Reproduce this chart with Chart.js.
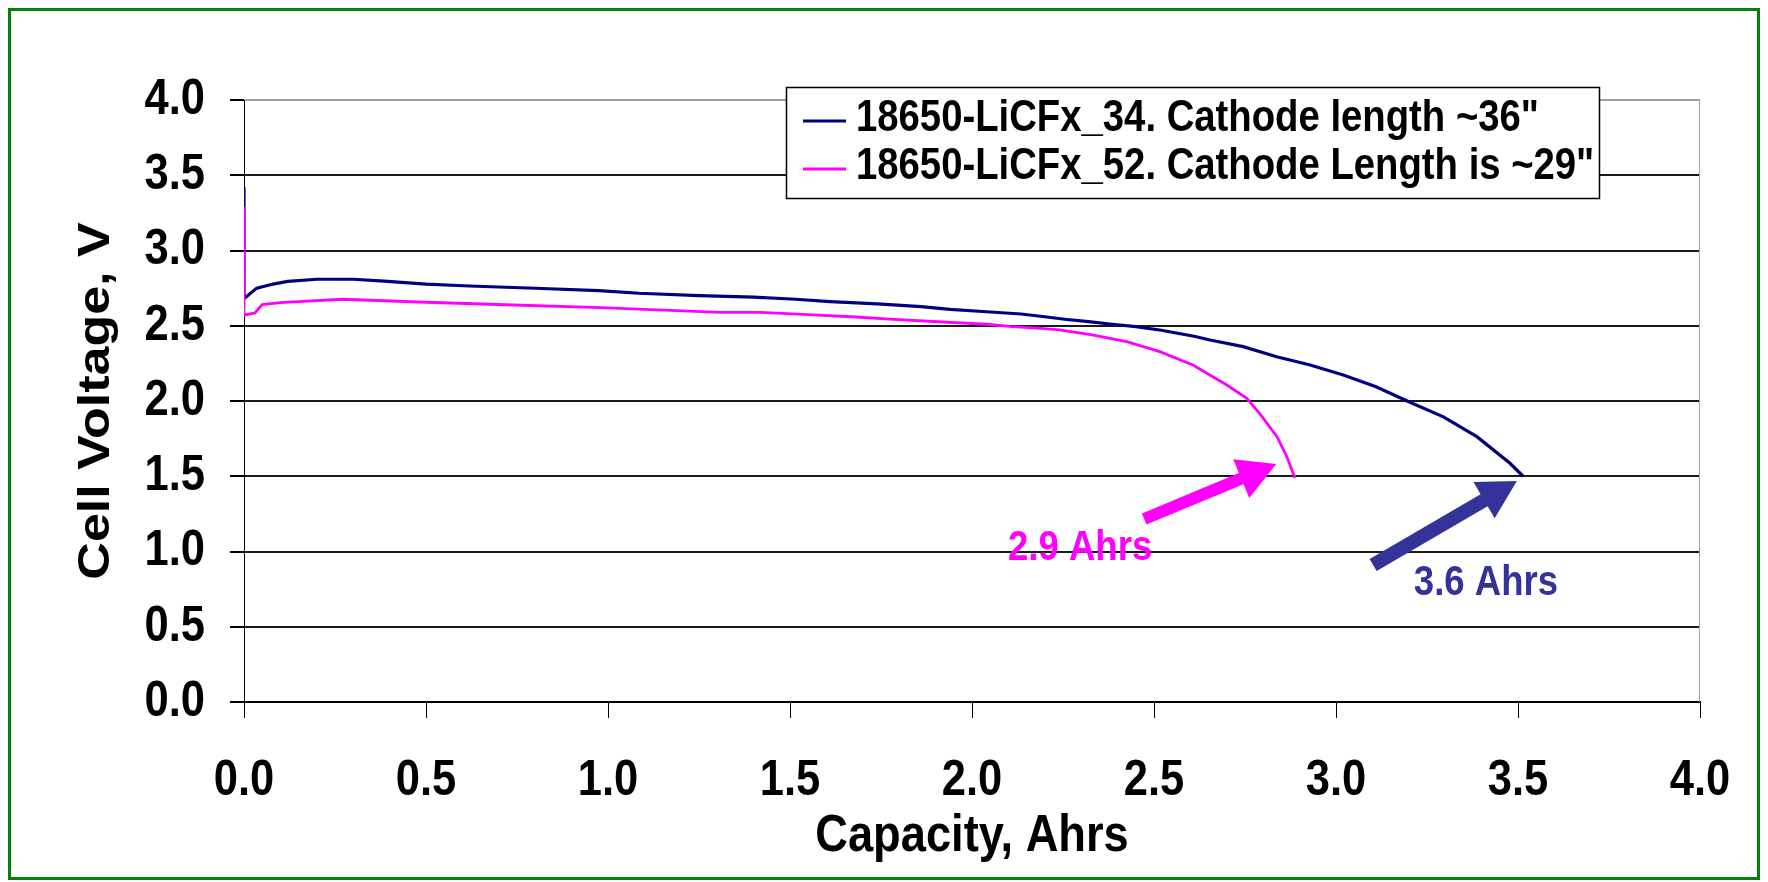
<!DOCTYPE html>
<html>
<head>
<meta charset="utf-8">
<script src="https://cdn.jsdelivr.net/npm/chart.js@4.4.1/dist/chart.umd.min.js"></script>
<style>
  html, body { margin: 0; padding: 0; background: #ffffff; }
  canvas { display: block; }
</style>
</head>
<body>
<canvas id="c" width="1768" height="882"></canvas>
<script>
// ---------------- data ----------------
const seriesLabels = [
  '18650-LiCFx_34. Cathode length ~36"',
  '18650-LiCFx_52. Cathode Length is ~29"'
];
const capacity34 = [0, 0, 0.035, 0.08, 0.12, 0.20, 0.30, 0.385, 0.50, 0.62, 0.80, 0.975, 1.085, 1.25, 1.40, 1.515, 1.61, 1.74, 1.86, 1.94, 2.04, 2.135, 2.20, 2.255, 2.32, 2.385, 2.45, 2.52, 2.61, 2.654, 2.745, 2.837, 2.929, 3.02, 3.11, 3.20, 3.295, 3.387, 3.478, 3.514];
const voltage34  = [3.42, 2.68, 2.75, 2.777, 2.795, 2.809, 2.809, 2.797, 2.777, 2.764, 2.749, 2.733, 2.716, 2.70, 2.69, 2.676, 2.66, 2.645, 2.627, 2.609, 2.593, 2.578, 2.56, 2.543, 2.527, 2.51, 2.494, 2.47, 2.43, 2.405, 2.361, 2.294, 2.239, 2.173, 2.095, 1.995, 1.895, 1.763, 1.586, 1.50];
const capacity52 = [0, 0, 0.03, 0.05, 0.10, 0.27, 0.50, 0.74, 0.98, 1.135, 1.31, 1.42, 1.55, 1.68, 1.785, 1.92, 2.04, 2.11, 2.19, 2.24, 2.33, 2.425, 2.516, 2.607, 2.70, 2.755, 2.79, 2.838, 2.865, 2.887];
const voltage52  = [3.29, 2.57, 2.585, 2.64, 2.654, 2.676, 2.656, 2.638, 2.62, 2.605, 2.589, 2.589, 2.574, 2.558, 2.543, 2.525, 2.51, 2.494, 2.483, 2.472, 2.439, 2.394, 2.328, 2.239, 2.106, 2.018, 1.918, 1.763, 1.63, 1.49];
const xTickLabels = ['0.0', '0.5', '1.0', '1.5', '2.0', '2.5', '3.0', '3.5', '4.0'];
const yTickLabels = ['0.0', '0.5', '1.0', '1.5', '2.0', '2.5', '3.0', '3.5', '4.0'];
const calloutText   = ['2.9 Ahrs', '3.6 Ahrs'];
const calloutTailX  = [2.473, 3.102];
const calloutTailY  = [1.216, 0.910];
const calloutTipX   = [2.836, 3.497];
const calloutTipY   = [1.581, 1.468];
const calloutLabelX = [2.297, 3.412];
const calloutLabelY = [1.023, 0.791];

// ---------------- styles ----------------
const FONT = '"Liberation Sans", Arial, Helvetica, sans-serif';
const TEXT_SQUEEZE = 0.87;   // the reference's lettering is horizontally condensed
const colors = ['#000080', '#ff00ff'];
const calloutColors = ['#ff00ff', '#333399'];

function pts(xs, ys) { return xs.map((x, i) => ({ x: x, y: ys[i] })); }

// draw all canvas text horizontally condensed about its anchor point
function condenseText(ctx) {
  if (ctx.__condensed) return;
  ctx.__condensed = true;
  const orig = ctx.fillText;
  ctx.fillText = function (text, x, y, maxWidth) {
    const m = this.getTransform();
    const px = m.a * x + m.c * y + m.e, py = m.b * x + m.d * y + m.f;
    this.save();
    this.setTransform(1, 0, 0, 1, 0, 0);
    this.translate(px, py);
    this.scale(TEXT_SQUEEZE, 1);
    this.translate(-px, -py);
    this.transform(m.a, m.b, m.c, m.d, m.e, m.f);
    if (maxWidth === undefined) orig.call(this, text, x, y);
    else orig.call(this, text, x, y, maxWidth);
    this.restore();
  };
}

const framePlugin = {
  id: 'frame',
  beforeInit(chart) { condenseText(chart.ctx); },
  beforeDraw(chart) {
    const ctx = chart.ctx;
    ctx.save();
    ctx.fillStyle = '#ffffff';
    ctx.fillRect(0, 0, chart.width, chart.height);
    ctx.restore();
  },
  afterDraw(chart) {
    const ctx = chart.ctx;
    ctx.save();
    ctx.strokeStyle = '#0b7d0b';
    ctx.lineWidth = 3;
    ctx.strokeRect(9.5, 9.5, chart.width - 19, chart.height - 13);
    ctx.restore();
  }
};

const plotBorderPlugin = {
  id: 'plotBorder',
  beforeDatasetsDraw(chart) {
    const ca = chart.chartArea, ctx = chart.ctx;
    ctx.save();
    ctx.strokeStyle = '#a0a0a0';
    ctx.lineWidth = 1;
    ctx.beginPath();
    ctx.moveTo(Math.round(ca.right) - 0.5, ca.top);
    ctx.lineTo(Math.round(ca.right) - 0.5, ca.bottom);
    ctx.stroke();
    ctx.restore();
  }
};

function drawArrow(ctx, x1, y1, x2, y2, shaftW, headLen, headW) {
  const dx = x2 - x1, dy = y2 - y1, L = Math.hypot(dx, dy);
  const ux = dx / L, uy = dy / L, nx = -uy, ny = ux;
  const bx = x2 - ux * headLen, by = y2 - uy * headLen;
  ctx.beginPath();
  ctx.moveTo(x1 + nx * shaftW / 2, y1 + ny * shaftW / 2);
  ctx.lineTo(bx + nx * shaftW / 2, by + ny * shaftW / 2);
  ctx.lineTo(bx + nx * headW / 2, by + ny * headW / 2);
  ctx.lineTo(x2, y2);
  ctx.lineTo(bx - nx * headW / 2, by - ny * headW / 2);
  ctx.lineTo(bx - nx * shaftW / 2, by - ny * shaftW / 2);
  ctx.lineTo(x1 - nx * shaftW / 2, y1 - ny * shaftW / 2);
  ctx.closePath();
  ctx.fill();
}

const calloutPlugin = {
  id: 'callouts',
  afterDatasetsDraw(chart) {
    const ctx = chart.ctx, xs = chart.scales.x, ys = chart.scales.y;
    const shaft = [12, 14];
    ctx.save();
    for (let i = 0; i < calloutText.length; i++) {
      ctx.fillStyle = calloutColors[i];
      drawArrow(ctx,
        xs.getPixelForValue(calloutTailX[i]), ys.getPixelForValue(calloutTailY[i]),
        xs.getPixelForValue(calloutTipX[i]), ys.getPixelForValue(calloutTipY[i]),
        shaft[i], 38, 42);
      ctx.font = 'bold 42px ' + FONT;
      ctx.textAlign = 'center';
      ctx.textBaseline = 'middle';
      ctx.fillText(calloutText[i], xs.getPixelForValue(calloutLabelX[i]), ys.getPixelForValue(calloutLabelY[i]));
    }
    ctx.restore();
  }
};

const legendPlugin = {
  id: 'boxLegend',
  afterDraw(chart) {
    const ctx = chart.ctx, ca = chart.chartArea;
    const left = ca.left + 542, top = ca.top - 13, w = 813, h = 111;
    ctx.save();
    ctx.fillStyle = '#ffffff';
    ctx.fillRect(left, top, w, h);
    ctx.strokeStyle = '#000000';
    ctx.lineWidth = 1.5;
    ctx.strokeRect(left + 0.5, top + 0.5, w, h);
    ctx.font = 'bold 44px ' + FONT;
    ctx.textAlign = 'left';
    ctx.textBaseline = 'middle';
    chart.data.datasets.forEach((ds, i) => {
      const y = top + 32 + i * 48;
      ctx.strokeStyle = ds.borderColor;
      ctx.lineWidth = 3;
      ctx.beginPath();
      ctx.moveTo(left + 17, y + 2);
      ctx.lineTo(left + 60, y + 2);
      ctx.stroke();
      ctx.fillStyle = '#000000';
      ctx.fillText(ds.label, left + 70, y);
    });
    ctx.restore();
  }
};

new Chart(document.getElementById('c'), {
  type: 'line',
  data: {
    datasets: [
      { label: seriesLabels[0], data: pts(capacity34, voltage34), borderColor: colors[0], backgroundColor: colors[0], borderWidth: 3.2, pointRadius: 0, tension: 0, fill: false, order: 2 },
      { label: seriesLabels[1], data: pts(capacity52, voltage52), borderColor: colors[1], backgroundColor: colors[1], borderWidth: 2.8, pointRadius: 0, tension: 0, fill: false, order: 1 }
    ]
  },
  options: {
    responsive: false,
    animation: false,
    devicePixelRatio: 1,
    layout: { padding: { top: 100, right: 68, left: 0, bottom: 0 } },
    plugins: { legend: { display: false }, tooltip: { enabled: false } },
    scales: {
      x: {
        type: 'linear', position: 'bottom', min: 0, max: 4,
        ticks: {
          stepSize: 0.5, autoSkip: false, maxRotation: 0, padding: 33, color: '#000',
          font: { family: FONT, size: 50, weight: 'bold' },
          callback: (v, i) => xTickLabels[i]
        },
        grid: { drawOnChartArea: false, drawTicks: true, tickLength: 16, tickColor: '#000', lineWidth: 1 },
        border: { color: '#000', width: 2 },
        title: { display: true, text: 'Capacity, Ahrs', color: '#000', font: { family: FONT, size: 52, weight: 'bold', lineHeight: 1.2 }, padding: { top: 0, bottom: 14 } },
        afterFit: s => { s.height = 180; }
      },
      y: {
        type: 'linear', min: 0, max: 4,
        ticks: {
          stepSize: 0.5, autoSkip: false, padding: 25, color: '#000',
          font: { family: FONT, size: 50, weight: 'bold' },
          callback: (v, i) => yTickLabels[i]
        },
        grid: {
          color: ctx => (ctx.tick && ctx.tick.value === 4) ? '#a0a0a0' : '#1a1a1a',
          lineWidth: 2, tickLength: 14, tickColor: '#000'
        },
        border: { color: '#000', width: 1 },
        title: { display: true, text: 'Cell Voltage, V', color: '#000', font: { family: FONT, size: 52, weight: 'bold', lineHeight: 1.2 }, padding: { top: 65, bottom: 0 } },
        afterFit: s => { s.width = 244; }
      }
    }
  },
  plugins: [framePlugin, plotBorderPlugin, calloutPlugin, legendPlugin]
});
</script>
</body>
</html>
